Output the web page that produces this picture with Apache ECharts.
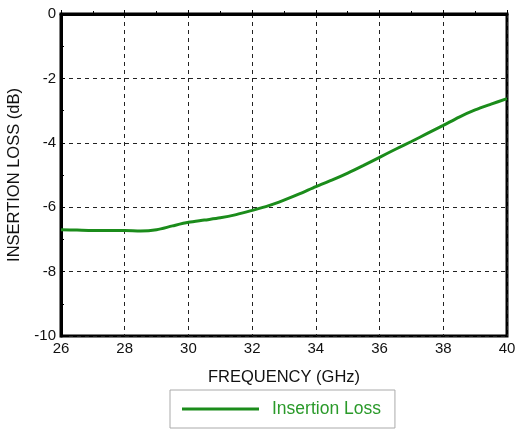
<!DOCTYPE html>
<html>
<head>
<meta charset="utf-8">
<script src="https://cdn.jsdelivr.net/npm/echarts@6/dist/echarts.min.js"></script>
<style>
  html, body { margin: 0; padding: 0; background: #fff; }
  #chart { width: 515px; height: 431px; }
</style>
</head>
<body>
<div id="chart"></div>
<script>
    // frequency (GHz) and insertion loss (dB)
    const freq = [26, 26.5, 27, 27.5, 28, 28.5, 29, 29.5, 30, 30.5, 31, 31.5, 32, 32.5, 33,
                  33.5, 34, 34.5, 35, 35.5, 36, 36.5, 37, 37.5, 38, 38.5, 39, 39.5, 40];
    const loss = [-6.70, -6.71, -6.72, -6.72, -6.72, -6.74, -6.70, -6.58, -6.47, -6.40, -6.33, -6.23, -6.10, -5.96, -5.78,
                  -5.58, -5.36, -5.16, -4.94, -4.70, -4.45, -4.20, -3.96, -3.71, -3.46, -3.20, -2.98, -2.80, -2.63];
    const seriesName = 'Insertion Loss';

    let chart = echarts.init(document.getElementById('chart'));
    let axisFont = { color: '#111', fontSize: 15, fontFamily: 'Liberation Sans, Arial, sans-serif' };
    let option = {
        animation: false,
        grid: {
            left: 61, right: 8, top: 14, bottom: 95,
            outerBoundsMode: 'none',
            show: true,
            borderColor: '#000',
            borderWidth: 3
        },
        legend: {
            data: [seriesName],
            bottom: 3,
            left: 170,
            icon: 'rect',
            itemWidth: 77,
            itemHeight: 3,
            itemGap: 6,
            padding: [10, 14, 10, 12],
            borderColor: '#aaa',
            borderWidth: 1,
            textStyle: { color: '#2a9a2a', fontSize: 17.5, padding: [0, 0, 0, 8], fontFamily: 'Liberation Sans, Arial, sans-serif' }
        },
        xAxis: {
            type: 'value',
            min: 26, max: 40, interval: 2,
            name: 'FREQUENCY (GHz)',
            nameLocation: 'middle',
            nameGap: 33,
            nameTextStyle: Object.assign({}, axisFont, { fontSize: 16.5 }),
            axisLine: { lineStyle: { color: '#000', width: 3 } },
            axisTick: { inside: true, length: 4, lineStyle: { color: '#000' } },
            minorTick: { show: true, splitNumber: 2, length: 3, lineStyle: { color: '#000' } },
            axisLabel: Object.assign({ margin: 5 }, axisFont),
            splitLine: { lineStyle: { color: '#222', type: [4, 4], width: 1 } }
        },
        yAxis: {
            type: 'value',
            min: -10, max: 0, interval: 2,
            name: 'INSERTION LOSS (dB)',
            nameLocation: 'middle',
            nameGap: 36,
            nameTextStyle: Object.assign({}, axisFont, { fontSize: 16.5 }),
            axisLine: { show: true, lineStyle: { color: '#000', width: 3 } },
            axisTick: { show: true, inside: true, length: 4, lineStyle: { color: '#000' } },
            minorTick: { show: true, splitNumber: 2, length: 3, lineStyle: { color: '#000' } },
            axisLabel: Object.assign({ margin: 5 }, axisFont),
            splitLine: { lineStyle: { color: '#222', type: [4, 4], width: 1 } }
        },
        series: [{
            name: seriesName,
            type: 'line',
            data: freq.map((f, i) => [f, loss[i]]),
            smooth: 0.3,
            showSymbol: false,
            itemStyle: { color: '#1b8c1b' },
            lineStyle: { color: '#1b8c1b', width: 3 }
        }]
    };
    chart.setOption(option);
</script>
</body>
</html>
